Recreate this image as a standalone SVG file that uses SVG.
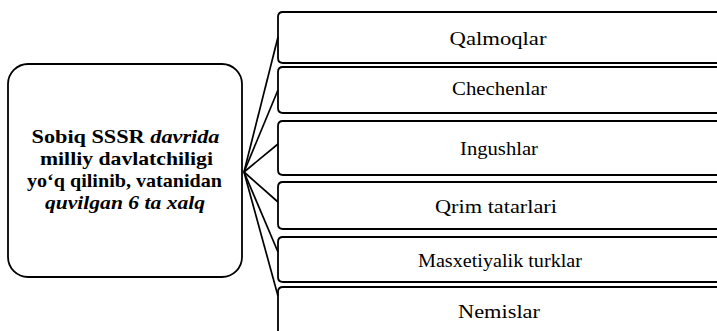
<svg xmlns="http://www.w3.org/2000/svg" width="717" height="331" viewBox="0 0 717 331">
<style>
.box{fill:none;stroke:#000;stroke-width:1.8;stroke-linejoin:round}
.conn line{stroke:#000;stroke-width:1.7}
.t{font-family:"Liberation Serif",serif;font-size:19px;fill:#000;text-anchor:middle}
.b{font-size:19.5px;font-weight:700}
.i{font-style:italic}
</style>
<rect width="717" height="331" fill="#fff"/>
<g id="source">
<rect class="box" x="8" y="64" width="234" height="213" rx="20" ry="20"/>
<text class="t b" x="125.5" y="143" textLength="188" lengthAdjust="spacingAndGlyphs">Sobiq SSSR <tspan class="i">davrida</tspan></text>
<text class="t b" x="126.5" y="165" textLength="173" lengthAdjust="spacingAndGlyphs">milliy davlatchiligi</text>
<text class="t b" x="124.5" y="187" textLength="195" lengthAdjust="spacingAndGlyphs">yo‘q qilinib, vatanidan</text>
<text class="t b i" x="125" y="209" textLength="160" lengthAdjust="spacingAndGlyphs">quvilgan 6 ta xalq</text>
</g>
<g class="conn" id="connectors">
<line x1="244" y1="172" x2="278" y2="37"/>
<line x1="244" y1="172" x2="278" y2="90"/>
<line x1="244" y1="172" x2="278" y2="144"/>
<line x1="244" y1="172" x2="278" y2="202"/>
<line x1="244" y1="172" x2="278" y2="252"/>
<line x1="244" y1="172" x2="278" y2="296"/>
</g>
<g id="n1">
<path class="box" d="M720 12H283Q278 12 278 17V58Q278 63 283 63H720"/>
<text class="t" x="498" y="45" textLength="97" lengthAdjust="spacingAndGlyphs">Qalmoqlar</text>
</g>
<g id="n2">
<path class="box" d="M720 67H283Q278 67 278 72V108Q278 113 283 113H720"/>
<text class="t" x="499.5" y="95" textLength="95" lengthAdjust="spacingAndGlyphs">Chechenlar</text>
</g>
<g id="n3">
<path class="box" d="M720 121H283Q278 121 278 126V170Q278 175 283 175H720"/>
<text class="t" x="499" y="155" textLength="78" lengthAdjust="spacingAndGlyphs">Ingushlar</text>
</g>
<g id="n4">
<path class="box" d="M720 182H283Q278 182 278 187V224Q278 229 283 229H720"/>
<text class="t" x="496" y="213" textLength="122" lengthAdjust="spacingAndGlyphs">Qrim tatarlari</text>
</g>
<g id="n5">
<path class="box" d="M720 237H283Q278 237 278 242V277Q278 282 283 282H720"/>
<text class="t" x="500" y="267" textLength="164" lengthAdjust="spacingAndGlyphs">Masxetiyalik turklar</text>
</g>
<g id="n6">
<path class="box" d="M720 287H283Q278 287 278 292V340"/>
<text class="t" x="499" y="318" textLength="82" lengthAdjust="spacingAndGlyphs">Nemislar</text>
</g>
</svg>
